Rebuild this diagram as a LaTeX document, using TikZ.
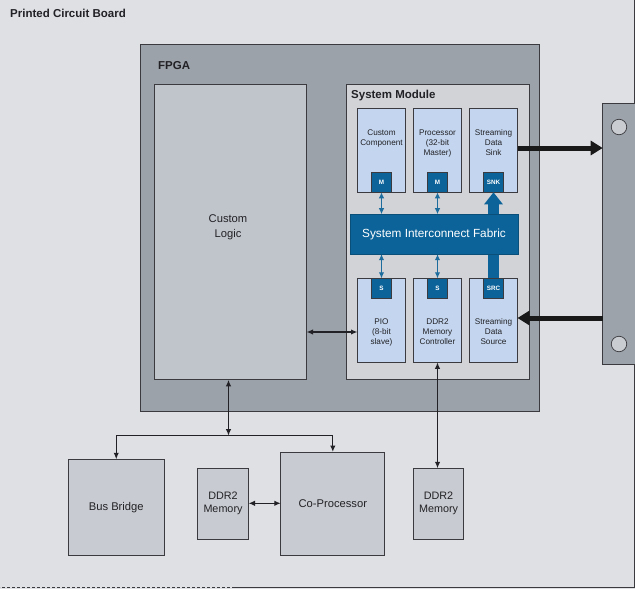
\documentclass[tikz,border=0pt]{standalone}
\usepackage{fontspec}
\setmainfont{Liberation Sans}
\usetikzlibrary{arrows.meta}
\definecolor{bgc}{HTML}{DFE0E4}
\definecolor{fpgac}{HTML}{9CA2A9}
\definecolor{logicc}{HTML}{C0C4CB}
\definecolor{smc}{HTML}{D1D3D7}
\definecolor{lblue}{HTML}{C4D6EF}
\definecolor{dblue}{HTML}{0C6399}
\definecolor{abluec}{HTML}{1C6C9E}
\definecolor{extc}{HTML}{C8CBD1}
\definecolor{edge}{HTML}{3A3A3F}
\definecolor{txt}{HTML}{222226}
\definecolor{connc}{HTML}{9DA3AA}
\definecolor{holec}{HTML}{C9CCD1}
\begin{document}
\begin{tikzpicture}[x=1pt,y=-1pt,
  box/.style={draw=edge, line width=0.9pt, inner sep=0pt, outer sep=0pt, anchor=north west},
  sub/.style={box, fill=lblue, minimum width=48pt, minimum height=84pt},
  port/.style={draw=edge, line width=0.6pt, fill=dblue, inner sep=0pt, outer sep=0pt,
     minimum width=19.5pt, minimum height=20pt, anchor=south, text=white,
     font=\fontsize{6.3}{7}\selectfont\bfseries},
  sport/.style={port, anchor=north},
  small/.style={font=\fontsize{8.2}{10}\selectfont, text=txt, align=center, anchor=base, inner sep=0pt},
  big/.style={font=\fontsize{11.2}{15}\selectfont, text=txt, align=center, inner sep=0pt},
  ttl/.style={font=\fontsize{11.5}{13}\selectfont\bfseries, text=txt, anchor=base west, inner sep=0pt},
  blk/.style={draw=txt, line width=1.3pt, -{Latex[length=6.5pt,width=5.5pt]}},
  blkb/.style={blk, {Latex[length=6.5pt,width=5.5pt]}-{Latex[length=6.5pt,width=5.5pt]}},
  bluearr/.style={draw=abluec, line width=1.1pt, {Latex[length=6pt,width=5.5pt]}-{Latex[length=6pt,width=5.5pt]}},
  thick arr/.style={draw=black!90, line width=5pt, -{Triangle[length=12pt,width=14pt]}},
  hole/.style={circle, draw=edge, line width=0.7pt, fill=holec, minimum size=15.5pt, inner sep=0pt}
]
\useasboundingbox (0,0) rectangle (635,589);
\fill[bgc] (0,0) rectangle (635,589);
% board border
\draw[edge, line width=1pt] (634.3,0) -- (634.3,587.5) -- (235,587.5);
\draw[edge, line width=1pt, dash pattern=on 3pt off 2pt] (235,587.5) -- (0,587.5);
\node[ttl] (title) at (10,17.3) {Printed Circuit Board};

% FPGA
\node[box, fill=fpgac, minimum width=399pt, minimum height=367.5pt] (fpga) at (140.3,44.3) {};
\node[ttl] (fpgalbl) at (158,69) {FPGA};
\node[box, fill=logicc, minimum width=152pt, minimum height=295.5pt] (cl) at (154.5,84.3) {};
\node[big] (cltxt) at (228,227) {Custom\\Logic};

% System module
\node[box, fill=smc, minimum width=183pt, minimum height=295.5pt] (sm) at (346,84.3) {};
\node[ttl] (smlbl) at (351,98.3) {System Module};

\node[sub] (cc) at (357.5,108.3) {};
\node[sub] (proc) at (413.5,108.3) {};
\node[sub] (sink) at (469.5,108.3) {};
\node[small] (cctxt) at (cc.north |- 0,145) {Custom\\Component};
\node[small] (proctxt) at (proc.north |- 0,155) {Processor\\(32-bit\\Master)};
\node[small] (sinktxt) at (sink.north |- 0,155) {Streaming\\Data\\Sink};
\node[port] (mcc) at (cc.south) {M};
\node[port] (mproc) at (proc.south) {M};
\node[port] (snk) at (sink.south) {SNK};

\node[sub] (pio) at (357.5,278.3) {};
\node[sub] (ddrc) at (413.5,278.3) {};
\node[sub] (srcbox) at (469.5,278.3) {};
\node[small] (piotxt) at (pio.north |- 0,344) {PIO\\(8-bit\\slave)};
\node[small] (ddrctxt) at (ddrc.north |- 0,344) {DDR2\\Memory\\Controller};
\node[small] (srctxt) at (srcbox.north |- 0,344) {Streaming\\Data\\Source};
\node[sport] (spio) at (pio.north) {S};
\node[sport] (sddr) at (ddrc.north) {S};
\node[sport] (src) at (srcbox.north) {SRC};

% big streaming arrow
\draw[dblue, line width=11pt, -{Triangle[length=12pt,width=18pt]}] (src.north) -- (snk.south);

\node[box, draw=dblue!80!black, line width=0.6pt, fill=dblue, minimum width=168pt, minimum height=40pt] (sif) at (350,214.2) {};
\node[text=white, font=\fontsize{11.8}{13}\selectfont, inner sep=0pt] (siftxt) at (sif.center) {System Interconnect Fabric};

\draw[bluearr] (mcc.south) -- (mcc.south |- sif.north);
\draw[bluearr] (mproc.south) -- (mproc.south |- sif.north);
\draw[bluearr] (spio.north |- sif.south) -- (spio.north);
\draw[bluearr] (sddr.north |- sif.south) -- (sddr.north);

% connector
\node[box, fill=connc, minimum width=36pt, minimum height=261pt] (conn) at (602.7,103.3) {};
\node[hole] (h1) at (619,127) {};
\node[hole] (h2) at (619,344) {};

\coordinate (sinkout) at (517.5,148);
\coordinate (srcin) at (602.7,318);
\draw[thick arr] (sinkout) -- (conn.west |- sinkout);
\draw[thick arr] (srcin) -- (srcbox.east |- srcin);

% off-chip
\node[box, fill=extc, minimum width=96.5pt, minimum height=96pt] (bb) at (68,459.3) {};
\node[big] (bbtxt) at (bb.center) {Bus Bridge};
\node[box, fill=extc, minimum width=51pt, minimum height=71pt] (ddrl) at (197.5,468.3) {};
\node[big, font=\fontsize{10.8}{13}\selectfont] (ddrltxt) at (ddrl.center) {DDR2\\Memory};
\node[box, fill=extc, minimum width=104pt, minimum height=103.3pt] (cop) at (280.8,452) {};
\node[big] (coptxt) at (cop.center) {Co-Processor};
\node[box, fill=extc, minimum width=50.5pt, minimum height=71pt] (ddrr) at (413.3,468.3) {};
\node[big, font=\fontsize{10.8}{13}\selectfont] (ddrrtxt) at (ddrr.center) {DDR2\\Memory};

% connections
\coordinate (j) at (228.5,435.7);
\coordinate (pl) at (306.5,332);
\draw[blkb] (pl) -- (pio.west |- pl);
\draw[blkb] (j |- cl.south) -- (j);
\draw[blk] (j) -| (bb.north);
\draw[blk] (j) -| (cop.north);
\draw[blkb] (ddrl.east |- 0,503.3) -- (cop.west |- 0,503.3);
\draw[blkb] (ddrc.south) -- (ddrc.south |- ddrr.north);
\end{tikzpicture}
\end{document}
